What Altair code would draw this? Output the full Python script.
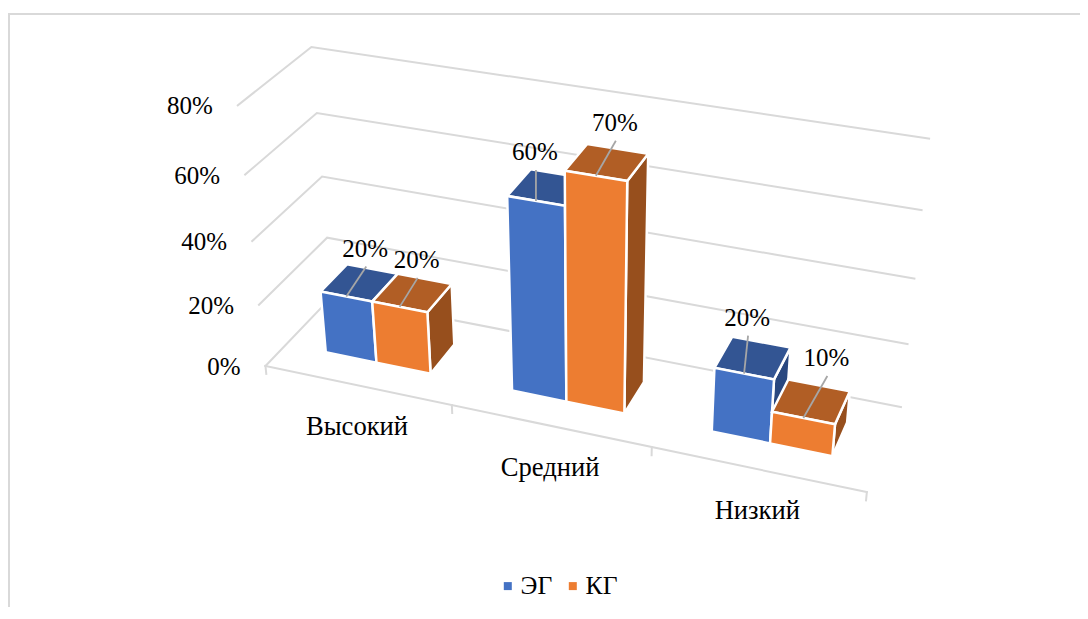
import altair as alt
import numpy as np

# ---- chart values ----
categories = ["Высокий", "Средний", "Низкий"]
series = ["ЭГ", "КГ"]
eg_values = [20, 60, 20]
kg_values = [20, 70, 10]
value_ticks = [0, 20, 40, 60, 80]

# ---- styling ----
FONT = "Liberation Serif"
FS_NUM = 25
FS_CAT = 26.6
GRID = "#d9d9d9"
face_keys = ["ЭГ", "КГ", "ЭГ верх", "КГ верх", "ЭГ бок", "КГ бок"]
face_cols = ["#4472C4", "#ED7D31", "#335593", "#B15E25", "#29477F", "#974F1D"]
W, H = 1072, 599
OX, OY = 8, 8

# ---- camera calibration: (category pos, depth, value) -> page pixel ----
anchors = [
    (0, 0, 0, 266, 366), (1, 0, 0, 452, 406), (2, 0, 0, 651, 449), (3, 0, 0, 867, 491),
    (0, 0, 20, 259, 304), (0, 0, 40, 252, 240), (0, 0, 60, 245, 174), (0, 0, 80, 238, 106),
    (0, 1, 80, 311, 47), (3, 1, 80, 929, 139), (0, 1, 60, 317, 113), (3, 1, 60, 922, 211),
    (0, 1, 40, 322, 177), (3, 1, 40, 915, 277), (3, 1, 20, 907, 344), (3, 1, 0, 901, 407),
]
rows = []
for u, v, h, x, y in anchors:
    X, Y, Z = u / 3, v, h / 80
    x, y = x / 500, y / 500
    rows.append([X, Y, Z, 1, 0, 0, 0, 0, -x * X, -x * Y, -x * Z, -x])
    rows.append([0, 0, 0, 0, X, Y, Z, 1, -y * X, -y * Y, -y * Z, -y])
P = np.linalg.svd(np.array(rows, float))[2][-1].reshape(3, 4)


def project(u, v, h):
    q = P @ np.array([u / 3, v, h / 80, 1.0])
    return float(q[0] / q[2] * 500 - OX), float(q[1] / q[2] * 500 - OY)


# bar footprint inside one category slot
U0, U1, U2 = 0.221, 0.50, 0.792
V0, V1 = 0.30, 0.70
label_offsets = [[(19, -48), (17, -47)], [(-1, -49), (19, -53)], [(3, -56), (23, -60)]]
leader_end = (1, 18)

# ---- faces ----
features = []


def face(key, pts):
    ring = [list(project(*p)) for p in pts]
    ring.append(ring[0])
    features.append({"type": "Feature", "properties": {"key": key},
                     "geometry": {"type": "Polygon", "coordinates": [ring]}})


labels, leaders = [], []
for c in range(3):
    for s, vals, (a, b) in ((0, eg_values, (U0, U1)), (1, kg_values, (U1, U2))):
        val = vals[c]
        u0, u1 = c + a, c + b
        name = series[s]
        face(f"{name} бок", [(u1, V0, 0), (u1, V1, 0), (u1, V1, val), (u1, V0, val)])
        face(f"{name} верх", [(u0, V0, val), (u1, V0, val), (u1, V1, val), (u0, V1, val)])
        face(name, [(u0, V0, 0), (u1, V0, 0), (u1, V0, val), (u0, V0, val)])
        sx, sy = project((u0 + u1) / 2, V0, val)
        ox, oy = label_offsets[c][s]
        lx, ly = sx + ox, sy + oy
        labels.append({"x": lx, "y": ly, "t": f"{val}%"})
        k = len(leaders)
        leaders.append({"x": sx, "y": sy, "g": k, "o": 0})
        leaders.append({"x": lx + leader_end[0], "y": ly + leader_end[1], "g": k, "o": 1})

# ---- grid ----
grid = []
g = 0


def polyline(pts):
    global g
    for i, p in enumerate(pts):
        x, y = project(*p)
        grid.append({"x": x, "y": y, "g": g, "o": i})
    g += 1


for v in value_ticks:
    polyline([(0, 0, v), (0, 1, v), (3, 1, v)])
polyline([(0, 0, 0), (3, 0, 0)])
for i in range(4):
    polyline([(i, 0, 0), (i, 0, -2.6)])

val_text = []
for v in value_ticks:
    x, y = project(0, 0, v)
    val_text.append({"x": x - 25, "y": y + 1, "t": f"{v}%"})
cat_text = []
for i, cname in enumerate(categories):
    x, y = project(i + 0.5, 0, 0)
    cat_text.append({"x": x, "y": y + 42, "t": cname})

xs = alt.Scale(domain=[0, W], range=[0, W])
ys = alt.Scale(domain=[0, H], range=[0, H])
X = alt.X("x:Q", scale=xs, axis=None)
Y = alt.Y("y:Q", scale=ys, axis=None)

frame = alt.Chart(alt.Data(values=[{"a": 1}])).mark_rule(color=GRID, strokeWidth=2)
frame_l = frame.encode(x=alt.value(1), y=alt.value(6), y2=alt.value(H))
frame_t = frame.encode(y=alt.value(6), x=alt.value(0), x2=alt.value(W))

grid_layer = alt.Chart(alt.Data(values=grid)).mark_line(color=GRID, strokeWidth=2, strokeCap="square").encode(
    x=X, y=Y, detail="g:N", order="o:Q")

bars = alt.Chart(alt.Data(values=features)).mark_geoshape(stroke="white", strokeWidth=2.5).encode(
    color=alt.Color("properties.key:N",
                    scale=alt.Scale(domain=face_keys, range=face_cols),
                    legend=alt.Legend(values=series, title=None, orient="none",
                                      legendX=487, legendY=565, direction="horizontal",
                                      symbolType="square", symbolSize=64, symbolStrokeWidth=0,
                                      labelFont=FONT, labelFontSize=25.6, labelColor="black",
                                      labelOffset=0, columnPadding=7))
).project(type="identity", scale=1, translate=[0, 0])

leader_layer = alt.Chart(alt.Data(values=leaders)).mark_line(color="#a6a6a6", strokeWidth=1.8).encode(
    x=X, y=Y, detail="g:N", order="o:Q")


def text_layer(rows_, align, size):
    return alt.Chart(alt.Data(values=rows_)).mark_text(
        font=FONT, fontSize=size, color="black", align=align, baseline="middle"
    ).encode(x=X, y=Y, text="t:N")


chart = alt.layer(frame_l, frame_t, grid_layer, bars, leader_layer,
                  text_layer(labels, "center", FS_NUM), text_layer(val_text, "right", FS_NUM),
                  text_layer(cat_text, "center", FS_CAT)
                  ).resolve_scale(color="independent").properties(
    width=W, height=H, padding=0, autosize=alt.AutoSizeParams(type="none"),
    background="white"
).configure_view(stroke=None)

chart.save("out.html", embed_options={"renderer": "svg", "actions": False})
